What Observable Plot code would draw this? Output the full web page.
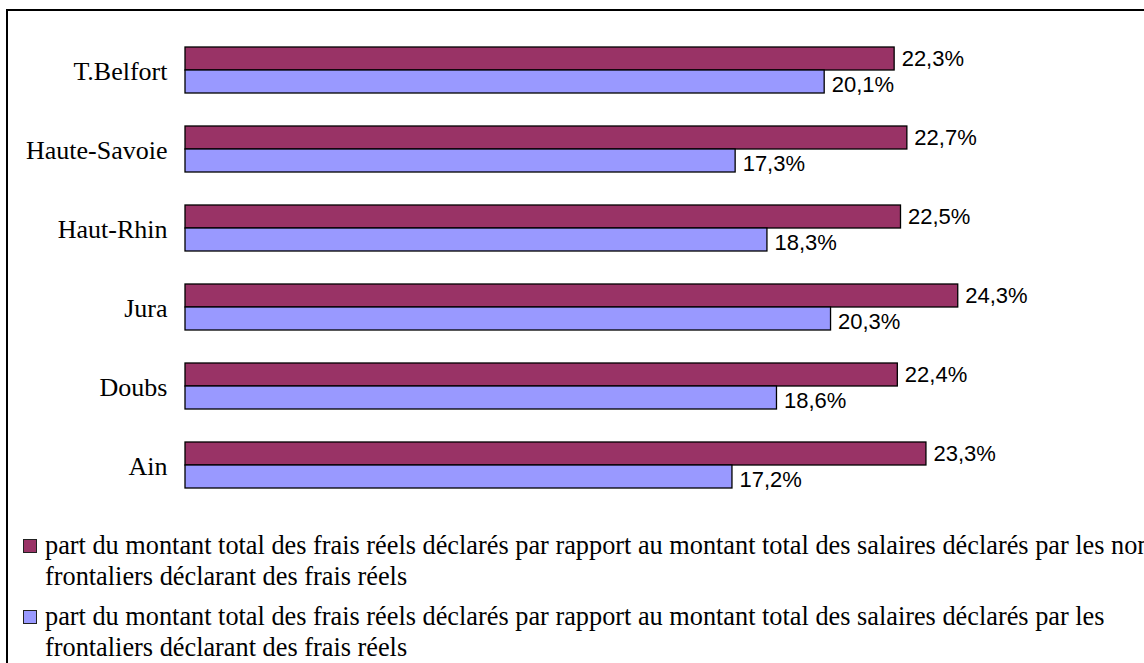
<!DOCTYPE html>
<html>
<head>
<meta charset="utf-8">
<script src="https://cdn.jsdelivr.net/npm/d3@7"></script>
<script src="https://cdn.jsdelivr.net/npm/@observablehq/plot@0.6"></script>
<style>
  html, body { margin: 0; padding: 0; background: #fff; overflow: hidden; width: 1144px; height: 663px; }
  #frame { position: absolute; left: 6px; top: 9px; width: 1400px; height: 900px; border: 2.5px solid #000; box-sizing: border-box; }
  #chart { position: absolute; left: 0; top: 0; }
  .legend-item { position: absolute; left: 0; font-family: "Liberation Serif", serif; font-size: 26.3px; line-height: 30.5px; white-space: nowrap; color: #000; }
  .legend-item .sw { position: absolute; left: 23px; top: 8px; width: 14px; height: 14px; box-sizing: border-box; border: 1.5px solid #222; }
  .legend-item .tx { position: absolute; left: 45px; top: 0; }
</style>
</head>
<body>
<div id="frame"></div>
<div id="chart"></div>
<div id="legend"></div>
<script>
const categories = ["T.Belfort", "Haute-Savoie", "Haut-Rhin", "Jura", "Doubs", "Ain"];
const nonFrontaliers = [22.3, 22.7, 22.5, 24.3, 22.4, 23.3];
const frontaliers = [20.1, 17.3, 18.3, 20.3, 18.6, 17.2];
const seriesNames = [
  "part du montant total des frais réels déclarés par rapport au montant total des salaires déclarés par les non frontaliers déclarant des frais réels",
  "part du montant total des frais réels déclarés par rapport au montant total des salaires déclarés par les frontaliers déclarant des frais réels"
];
const legendLines = [
  ["part du montant total des frais réels déclarés par rapport au montant total des salaires déclarés par les non", "frontaliers déclarant des frais réels"],
  ["part du montant total des frais réels déclarés par rapport au montant total des salaires déclarés par les", "frontaliers déclarant des frais réels"]
];
const colors = ["#993366", "#9999FF"];

const data = [];
categories.forEach((c, i) => {
  data.push({cat: c, series: seriesNames[0], value: nonFrontaliers[i]});
  data.push({cat: c, series: seriesNames[1], value: frontaliers[i]});
});
const fmt = v => v.toFixed(1).replace(".", ",") + "%";

const chart = Plot.plot({
  width: 1144,
  height: 521,
  marginTop: 13,
  marginBottom: 0,
  marginLeft: 185,
  marginRight: 5,
  style: {background: "transparent", fontFamily: "Liberation Serif", fontSize: "26px", color: "#000", overflow: "visible"},
  x: {domain: [0, 30], axis: null},
  y: {domain: seriesNames, padding: 0, axis: null},
  fy: {domain: categories, paddingInner: 0.419, paddingOuter: 0.419, label: null},
  color: {domain: seriesNames, range: colors},
  marks: [
    Plot.barX(data, {fy: "cat", y: "series", x: "value", fill: "series", stroke: "#000", strokeWidth: 1.3}),
    Plot.text(data.filter(d => d.series === seriesNames[0]), {fy: "cat", y: "series", x: "value", text: d => fmt(d.value), textAnchor: "start", dx: 7, dy: 0, fontFamily: "Liberation Sans", fontSize: 22, fill: "#000"}),
    Plot.text(data.filter(d => d.series === seriesNames[1]), {fy: "cat", y: "series", x: "value", text: d => fmt(d.value), textAnchor: "start", dx: 7, dy: 3, fontFamily: "Liberation Sans", fontSize: 22, fill: "#000"}),
    Plot.axisFy({anchor: "left", tickSize: 0, tickPadding: 18, dy: 1.5, fontSize: 26, fontFamily: "Liberation Serif", label: null})
  ]
});
document.getElementById("chart").appendChild(chart);

const legend = document.getElementById("legend");
const tops = [531, 602];
legendLines.forEach((lines, i) => {
  const item = document.createElement("div");
  item.className = "legend-item";
  item.style.top = tops[i] + "px";
  const sw = document.createElement("div");
  sw.className = "sw";
  sw.style.background = colors[i];
  const tx = document.createElement("div");
  tx.className = "tx";
  tx.innerHTML = lines.join("<br>");
  item.appendChild(sw);
  item.appendChild(tx);
  legend.appendChild(item);
});
</script>
</body>
</html>
